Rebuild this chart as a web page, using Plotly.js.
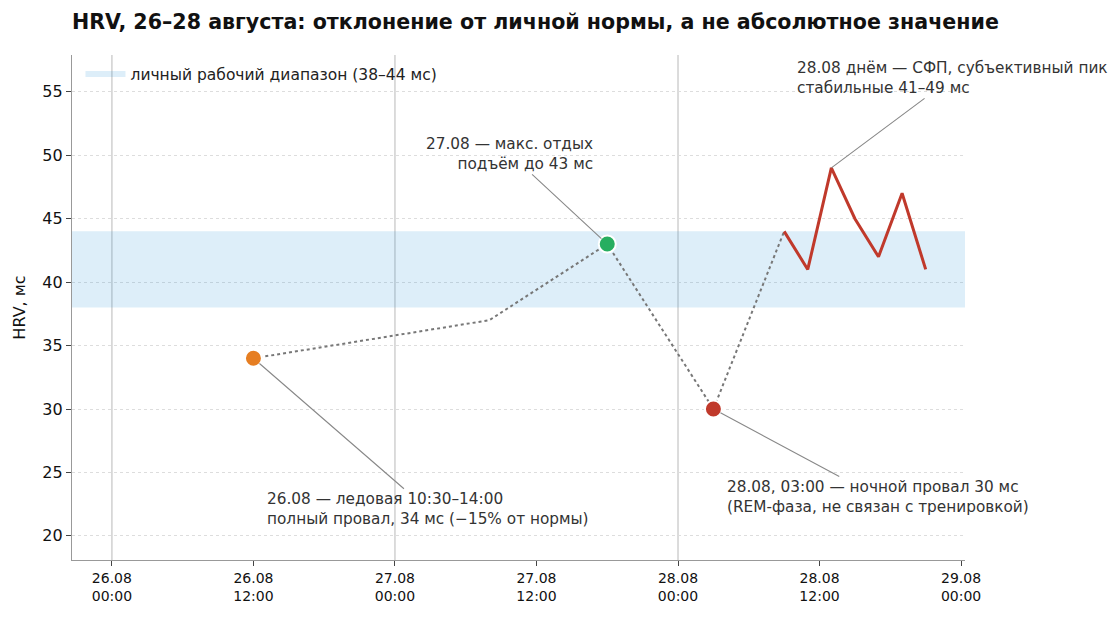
<!DOCTYPE html>
<html>
<head>
<meta charset="utf-8">
<script src="https://cdn.plot.ly/plotly-3.0.1.min.js"></script>
<style>
  html, body { margin: 0; padding: 0; background: #fff; }
  #hrv { width: 1120px; height: 618px; }
</style>
</head>
<body>
<div id="hrv"></div>
<script>
// personal working range, ms
var normRange = [38, 44];

// night/rest path (dotted)
var restTimes = ['2024-08-26 12:00', '2024-08-27 08:00', '2024-08-27 18:00', '2024-08-28 03:00', '2024-08-28 09:00'];
var restHrv = [34, 37, 43, 30, 44];

// 28.08 daytime, SFP session
var dayTimes = ['2024-08-28 09:00', '2024-08-28 11:00', '2024-08-28 13:00', '2024-08-28 15:00', '2024-08-28 17:00', '2024-08-28 19:00', '2024-08-28 21:00'];
var dayHrv = [44, 41, 49, 45, 42, 47, 41];

// key points
var keyTimes = ['2024-08-26 12:00', '2024-08-27 18:00', '2024-08-28 03:00'];
var keyHrv = [34, 43, 30];
var keyColors = ['#e67e22', '#27ae60', '#c0392b'];

var dayStarts = ['2024-08-26 00:00', '2024-08-27 00:00', '2024-08-28 00:00'];
var xRange = ['2024-08-25 20:37', '2024-08-29 00:20'];

var font = 'DejaVu Sans, sans-serif';

var band = {
    x: [xRange[0], xRange[1], xRange[1], xRange[0]],
    y: [normRange[0], normRange[0], normRange[1], normRange[1]],
    type: 'scatter',
    mode: 'none',
    fill: 'toself',
    fillcolor: 'rgba(52,152,219,0.17)',
    name: 'личный рабочий диапазон (38–44 мс)'
};

var rest = {
    x: restTimes,
    y: restHrv,
    type: 'scatter',
    mode: 'lines',
    line: {color: '#777', width: 2, dash: 'dot'},
    showlegend: false
};

var day = {
    x: dayTimes,
    y: dayHrv,
    type: 'scatter',
    mode: 'lines',
    line: {color: '#c0392b', width: 3},
    showlegend: false
};

var keys = {
    x: keyTimes,
    y: keyHrv,
    type: 'scatter',
    mode: 'markers',
    marker: {size: 17, color: keyColors, line: {color: '#fff', width: 2}},
    showlegend: false
};

var shapes = dayStarts.map(function (d) {
    return {type: 'line', xref: 'x', yref: 'paper', x0: d, x1: d, y0: 0, y1: 1,
        line: {color: '#d0d0d0', width: 1.5}, layer: 'below'};
});

function note(text, x, y, ax, ay, align, standoff) {
    return {
        text: text, x: x, y: y, ax: ax, ay: ay,
        xref: 'x', yref: 'y', axref: 'x', ayref: 'y',
        showarrow: true, arrowhead: 0, arrowwidth: 1.1, arrowcolor: '#888',
        standoff: standoff, align: align,
        font: {family: font, size: 15.3, color: '#333'}
    };
}

var annotations = [
    note('27.08 — макс. отдых<br>подъём до 43 мс', keyTimes[1], keyHrv[1], '2024-08-27 09:45', 50.1, 'right', 8),
    note('28.08 днём — СФП, субъективный пик<br>стабильные 41–49 мс', dayTimes[2], dayHrv[2], '2024-08-28 23:14', 56.1, 'left', 0),
    note('26.08 — ледовая 10:30–14:00<br>полный провал, 34 мс (−15% от нормы)', keyTimes[0], keyHrv[0], '2024-08-27 02:46', 22.1, 'left', 8),
    note('28.08, 03:00 — ночной провал 30 мс<br>(REM-фаза, не связан с тренировкой)', keyTimes[2], keyHrv[2], '2024-08-28 16:55', 23.07, 'left', 8)
];

var layout = {
    width: 1120,
    height: 618,
    margin: {l: 72, r: 155, t: 55, b: 58},
    paper_bgcolor: '#fff',
    plot_bgcolor: '#fff',
    font: {family: font, color: '#222'},
    title: {
        text: '<b>HRV, 26–28 августа: отклонение от личной нормы, а не абсолютное значение</b>',
        font: {family: font, size: 20.6, color: '#111'},
        x: 0, xref: 'paper', xanchor: 'left',
        y: 0.964, yref: 'container', yanchor: 'middle'
    },
    xaxis: {
        type: 'date',
        range: xRange,
        tick0: '2024-08-26 00:00',
        dtick: 43200000,
        tickformat: '%d.%m<br>%H:%M',
        ticks: 'outside', ticklen: 5, tickcolor: '#444',
        tickfont: {size: 14, color: '#111'},
        showgrid: false, zeroline: false,
        showline: true, linecolor: '#999', linewidth: 1.2
    },
    yaxis: {
        range: [18.1, 57.9],
        tick0: 20, dtick: 5,
        ticks: 'outside', ticklen: 5, tickcolor: '#444',
        tickfont: {size: 16, color: '#111'},
        showgrid: true, gridcolor: '#ddd', griddash: 'dot', gridwidth: 1,
        zeroline: false,
        showline: true, linecolor: '#999', linewidth: 1.2,
        title: {text: 'HRV, мс', font: {size: 16, color: '#111'}, standoff: 12}
    },
    legend: {
        x: 0.0095, y: 0.995, xanchor: 'left', yanchor: 'top',
        bgcolor: 'rgba(0,0,0,0)',
        itemwidth: 40,
        font: {size: 15.5, color: '#222'}
    },
    shapes: shapes,
    annotations: annotations,
    hovermode: false
};

Plotly.newPlot('hrv', [band, rest, day, keys], layout, {staticPlot: true});
</script>
</body>
</html>
